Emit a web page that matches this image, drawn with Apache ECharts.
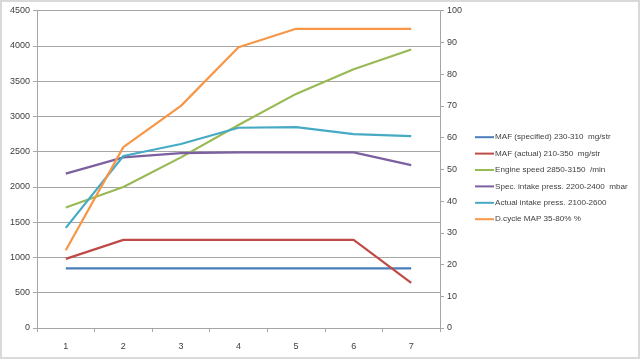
<!DOCTYPE html>
<html>
<head>
<meta charset="utf-8">
<script src="https://cdn.jsdelivr.net/npm/echarts@6/dist/echarts.min.js"></script>
<style>
html,body{margin:0;padding:0;background:#fff;}
#frame{position:absolute;left:0;top:0;width:636px;height:355px;border:2px solid #d9d9d9;}
#c{position:absolute;left:0;top:0;width:640px;height:359px;}
</style>
</head>
<body>
<div id="frame"></div>
<div id="c"></div>
<script>
var categories = ['1','2','3','4','5','6','7'];
var mafSpecified = [845, 845, 845, 845, 845, 845, 845];
var mafActual = [980, 1250, 1250, 1250, 1250, 1250, 640];
var engineSpeed = [1710, 2000, 2420, 2880, 3320, 3670, 3950];
var specIntake = [2190, 2420, 2480, 2490, 2490, 2490, 2310];
var actualIntake = [1420, 2440, 2610, 2840, 2850, 2750, 2720];
var dutyCycle = [24.5, 57, 70, 88.5, 94.3, 94.3, 94.3];

var seriesNames = ['MAF (specified) 230-310  mg/str','MAF (actual) 210-350  mg/str','Engine speed 2850-3150  /min','Spec. intake press. 2200-2400  mbar','Actual intake press. 2100-2600','D.cycle MAP 35-80% %'];
var colors = ['#4A7EBB','#BE4B48','#98B954','#7D60A0','#46AAC5','#F79646'];
var dataSets = [mafSpecified, mafActual, engineSpeed, specIntake, actualIntake, dutyCycle];
var axisIdx = [0,0,0,0,0,1];

var font = "'Liberation Sans',sans-serif";
// fit legend font so the longest entry spans ~133px like the reference
var ctx = document.createElement('canvas').getContext('2d');
var legendSize = 10;
for (var s = 10; s >= 7; s -= 0.1) {
  ctx.font = s + "px " + font;
  if (ctx.measureText(seriesNames[3]).width <= 133) { legendSize = s; break; }
}

var chart = echarts.init(document.getElementById('c'), null, {renderer:'canvas'});
var series = dataSets.map(function(d,i){
  return {name:seriesNames[i], type:'line', data:d, yAxisIndex:axisIdx[i], showSymbol:false, symbol:'none',
    lineStyle:{width:2.2, color:colors[i]}, itemStyle:{color:colors[i]}, animation:false};
});
chart.setOption({
  animation:false,
  grid:{left:37, right:200, top:10.7, bottom:31, containLabel:false},
  legend:{orient:'vertical', left:475, top:129, padding:0, itemWidth:19, itemHeight:2, itemGap:0,
    icon:'rect', textStyle:{fontFamily:font, fontSize:legendSize, color:'#404040', lineHeight:16.4, padding:[0,0,0,-4]},
    data:seriesNames},
  xAxis:{type:'category', data:categories, boundaryGap:true,
    axisLine:{lineStyle:{color:'#a6a6a6'}}, axisTick:{show:true, length:4, lineStyle:{color:'#a6a6a6'}},
    axisLabel:{fontFamily:font, fontSize:9, color:'#404040', margin:14}},
  yAxis:[
    {type:'value', min:0, max:4500, interval:500,
     axisLine:{show:true, lineStyle:{color:'#a6a6a6'}}, axisTick:{show:true, length:4, lineStyle:{color:'#a6a6a6'}},
     splitLine:{lineStyle:{color:'#a6a6a6', width:1}},
     axisLabel:{fontFamily:font, fontSize:9, color:'#404040', margin:7, formatter:function(v){return String(v);}}},
    {type:'value', min:0, max:100, interval:10, position:'right',
     axisLine:{show:true, lineStyle:{color:'#a6a6a6'}}, axisTick:{show:true, length:4, lineStyle:{color:'#a6a6a6'}},
     splitLine:{show:false},
     axisLabel:{fontFamily:font, fontSize:9, color:'#404040', margin:7, formatter:function(v){return String(v);}}}
  ],
  series:series
});
</script>
</body>
</html>
